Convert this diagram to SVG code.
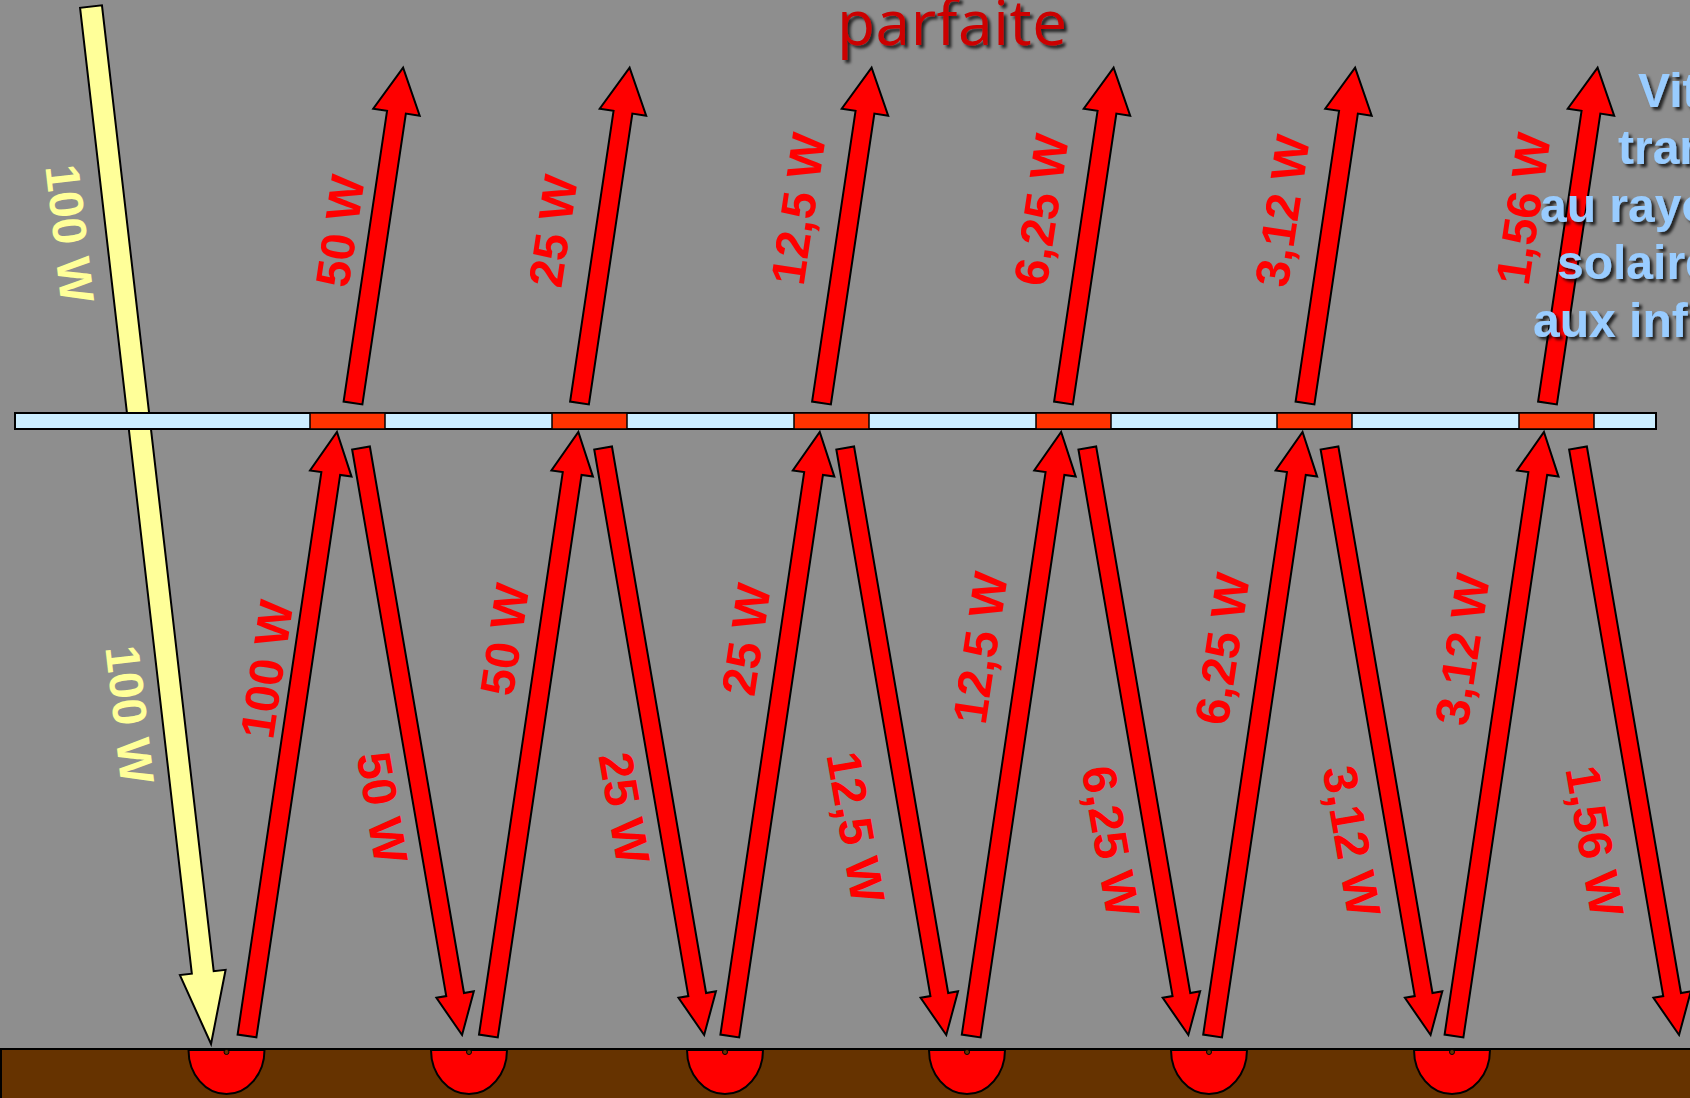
<svg xmlns="http://www.w3.org/2000/svg" width="1690" height="1098" viewBox="0 0 1690 1098">
<defs>
<style>
.lbl{font-family:"Liberation Sans",Arial,sans-serif;font-weight:bold;font-size:48px;text-anchor:middle}
.red{fill:#ff0000}
.yel{fill:#ffff99}
.blue{font-family:"Liberation Sans",Arial,sans-serif;font-weight:bold;font-size:48px;fill:#99ccff}
.arr{fill:#ff0000;stroke:#000;stroke-width:2;stroke-linejoin:miter}
.seg{fill:#ff3300;stroke:#000;stroke-width:1.5}
.cup{fill:#ff0000;stroke:#000;stroke-width:2}
</style>
<filter id="sh" x="-10%" y="-20%" width="130%" height="150%">
<feDropShadow dx="3" dy="3" stdDeviation="1.5" flood-color="#000" flood-opacity="0.75"/>
</filter>
<path id="au" d="M0,-9.5 H294 V-23.5 L339,0 L294,23.5 V9.5 H0 Z"/>
<path id="aup" d="M0,-9.5 H568.7 V-21 L610.7,0 L568.7,21 V9.5 H0 Z"/>
<path id="adn" d="M0,-9 H554.6 V-19 L595.6,0 L554.6,19 V9 H0 Z"/>
</defs>
<rect x="0" y="0" width="1690" height="1098" fill="#8e8e8e"/>
<g id="title" filter="url(#sh)">
<text x="952" y="45" font-family="'Open Sans','Noto Sans',sans-serif" font-size="62" fill="#cc0000" text-anchor="middle" textLength="230">parfaite</text>
</g>
<g id="sun-ray">
<path d="M0,-11 H972.4 V-23 L1044.4,0 L972.4,23 V11 H0 Z" transform="translate(91,6.5) rotate(83.4)" fill="#ffff99" stroke="#000" stroke-width="2"/>
</g>
<g id="glass">
<rect x="15" y="413" width="1641" height="16" fill="#cceeff" stroke="#000" stroke-width="2"/>
<rect class="seg" x="310" y="413" width="75" height="16"/>
<rect class="seg" x="552" y="413" width="75" height="16"/>
<rect class="seg" x="794" y="413" width="75" height="16"/>
<rect class="seg" x="1036" y="413" width="75" height="16"/>
<rect class="seg" x="1277" y="413" width="75" height="16"/>
<rect class="seg" x="1519" y="413" width="75" height="16"/>
</g>
<g id="connectors" class="arr">
<use href="#au" transform="translate(353,403) rotate(-81.5)"/>
<use href="#au" transform="translate(579.5,403) rotate(-81.5)"/>
<use href="#au" transform="translate(821.5,403) rotate(-81.5)"/>
<use href="#au" transform="translate(1063.5,403) rotate(-81.5)"/>
<use href="#au" transform="translate(1305,403) rotate(-81.5)"/>
<use href="#au" transform="translate(1547.5,403) rotate(-81.5)"/>
<use href="#aup" transform="translate(247,1036) rotate(-81.53)"/>
<use href="#aup" transform="translate(488.4,1036) rotate(-81.53)"/>
<use href="#aup" transform="translate(729.8,1036) rotate(-81.53)"/>
<use href="#aup" transform="translate(971.2,1036) rotate(-81.53)"/>
<use href="#aup" transform="translate(1212.6,1036) rotate(-81.53)"/>
<use href="#aup" transform="translate(1454,1036) rotate(-81.53)"/>
<use href="#adn" transform="translate(361,448) rotate(80.23)"/>
<use href="#adn" transform="translate(603.1,448) rotate(80.23)"/>
<use href="#adn" transform="translate(845.2,448) rotate(80.23)"/>
<use href="#adn" transform="translate(1087.3,448) rotate(80.23)"/>
<use href="#adn" transform="translate(1329.5,448) rotate(80.23)"/>
<use href="#adn" transform="translate(1578,448) rotate(80.23)"/>
</g>
<g id="vitrage-text" class="blue" filter="url(#sh)">
<text x="1638" y="107">Vit</text>
<text x="1618" y="164">tran</text>
<text x="1540" y="222">au rayo</text>
<text x="1557" y="279">solaire</text>
<text x="1533" y="337">aux inf</text>
</g>
<g id="labels-yellow" class="lbl yel">
<text transform="translate(70,233.5) rotate(83.4)" dy="0.35em">100 W</text>
<text transform="translate(130,714.5) rotate(83.4)" dy="0.35em">100 W</text>
</g>
<g id="labels-up-top" class="lbl red">
<text transform="translate(340,231) rotate(-81.5)" dy="0.35em">50 W</text>
<text transform="translate(553,231) rotate(-81.5)" dy="0.35em">25 W</text>
<text transform="translate(798,209) rotate(-81.5)" dy="0.35em">12,5 W</text>
<text transform="translate(1041,210) rotate(-81.5)" dy="0.35em">6,25 W</text>
<text transform="translate(1282,211) rotate(-81.5)" dy="0.35em">3,12 W</text>
<text transform="translate(1523,209) rotate(-81.5)" dy="0.35em">1,56 W</text>
</g>
<g id="labels-up-bottom" class="lbl red">
<text transform="translate(266.5,669.5) rotate(-81.5)" dy="0.35em">100 W</text>
<text transform="translate(504.5,639.5) rotate(-81.5)" dy="0.35em">50 W</text>
<text transform="translate(746,639.5) rotate(-81.5)" dy="0.35em">25 W</text>
<text transform="translate(980,648) rotate(-81.5)" dy="0.35em">12,5 W</text>
<text transform="translate(1222,649) rotate(-81.5)" dy="0.35em">6,25 W</text>
<text transform="translate(1462,649.5) rotate(-81.5)" dy="0.35em">3,12 W</text>
</g>
<g id="labels-down" class="lbl red">
<text transform="translate(382.5,807.5) rotate(80.2)" dy="0.35em">50 W</text>
<text transform="translate(624.5,808) rotate(80.2)" dy="0.35em">25 W</text>
<text transform="translate(856,827) rotate(80.2)" dy="0.35em">12,5 W</text>
<text transform="translate(1111,841) rotate(80.2)" dy="0.35em">6,25 W</text>
<text transform="translate(1352,841) rotate(80.2)" dy="0.35em">3,12 W</text>
<text transform="translate(1595,841) rotate(80.2)" dy="0.35em">1,56 W</text>
</g>
<g id="ground">
<rect x="1" y="1049" width="1700" height="60" fill="#663300" stroke="#000" stroke-width="2"/>
</g>
<g id="absorbers">
<g id="cup1"><path class="cup" d="M188.5,1050 A38,44 0 0 0 264.5,1050 Z"/><circle cx="226.5" cy="1052" r="2.5" fill="#663300" stroke="#000" stroke-width="1"/></g>
<g id="cup2"><path class="cup" d="M431,1050 A38,44 0 0 0 507,1050 Z"/><circle cx="469" cy="1052" r="2.5" fill="#663300" stroke="#000" stroke-width="1"/></g>
<g id="cup3"><path class="cup" d="M687,1050 A38,44 0 0 0 763,1050 Z"/><circle cx="725" cy="1052" r="2.5" fill="#663300" stroke="#000" stroke-width="1"/></g>
<g id="cup4"><path class="cup" d="M929,1050 A38,44 0 0 0 1005,1050 Z"/><circle cx="967" cy="1052" r="2.5" fill="#663300" stroke="#000" stroke-width="1"/></g>
<g id="cup5"><path class="cup" d="M1171,1050 A38,44 0 0 0 1247,1050 Z"/><circle cx="1209" cy="1052" r="2.5" fill="#663300" stroke="#000" stroke-width="1"/></g>
<g id="cup6"><path class="cup" d="M1414,1050 A38,44 0 0 0 1490,1050 Z"/><circle cx="1452" cy="1052" r="2.5" fill="#663300" stroke="#000" stroke-width="1"/></g>
</g>
</svg>
